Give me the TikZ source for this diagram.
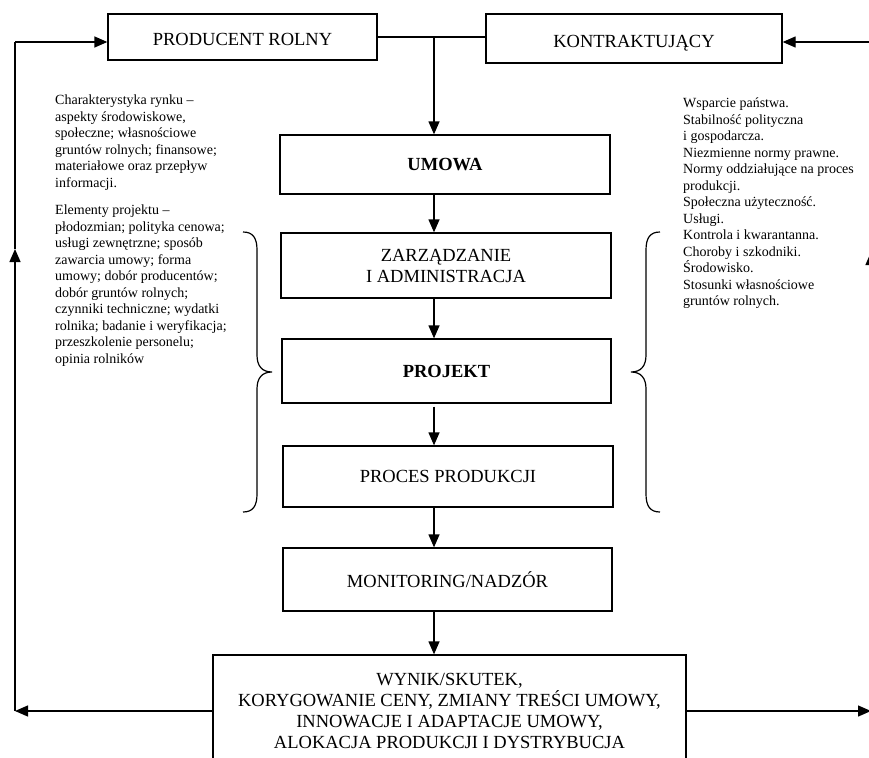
\documentclass[tikz,border=0pt]{standalone}
\usepackage{fontspec}
\setmainfont{Liberation Serif}
\usetikzlibrary{arrows.meta}
\begin{document}
\begin{tikzpicture}[x=1pt,y=-1pt,
  box/.style={draw, line width=1.3pt, inner sep=0pt, align=center,
    font=\fontsize{18.5}{21}\selectfont},
  topbox/.style={box, text height=18pt, text depth=0pt},
  side/.style={inner sep=0pt, align=left, anchor=north west,
    font=\fontsize{14}{16.5}\selectfont},
  conn/.style={line width=1.3pt},
  arr/.style={line width=1.3pt, -{Triangle[length=13pt,width=11pt]}},
  brace/.style={line width=1.2pt}]
\useasboundingbox (0,0) rectangle (869,757);
% boxes
\node[topbox, minimum width=269pt, minimum height=46pt] (PR) at (242.5,37) {PRODUCENT ROLNY};
\node[topbox, minimum width=296pt, minimum height=49pt] (KO) at (634,38.5) {KONTRAKTUJĄCY};
\node[box, minimum width=330pt, minimum height=59pt] (UM) at (445,164.5) {\textbf{UMOWA}};
\node[box, minimum width=330pt, minimum height=65pt] (ZA) at (446,265.5) {ZARZĄDZANIE\\I ADMINISTRACJA};
\node[box, minimum width=329pt, minimum height=64pt] (PJ) at (446.5,371) {\textbf{PROJEKT}};
\node[box, minimum width=330pt, minimum height=61pt] (PP) at (448,476.5) {PROCES PRODUKCJI};
\node[box, minimum width=329pt, minimum height=63pt] (MO) at (447.5,579.5) {MONITORING/NADZÓR};
\node[box, minimum width=473pt, minimum height=112pt] (WY) at (449.5,711) {WYNIK/SKUTEK,\\KORYGOWANIE CENY, ZMIANY TREŚCI UMOWY,\\INNOWACJE I ADAPTACJE UMOWY,\\ALOKACJA PRODUKCJI I DYSTRYBUCJA};
% side texts
\node[side] (T1) at (55,95) {Charakterystyka rynku –\\aspekty środowiskowe,\\społeczne; własnościowe\\gruntów rolnych; finansowe;\\materiałowe oraz przepływ\\informacji.};
\node[side] (T2) at (55,205) {Elementy projektu –\\płodozmian; polityka cenowa;\\usługi zewnętrzne; sposób\\zawarcia umowy; forma\\umowy; dobór producentów;\\dobór gruntów rolnych;\\czynniki techniczne; wydatki\\rolnika; badanie i weryfikacja;\\przeszkolenie personelu;\\opinia rolników};
\node[side] (T3) at (683,98) {Wsparcie państwa.\\Stabilność polityczna\\i gospodarcza.\\Niezmienne normy prawne.\\Normy oddziałujące na proces\\produkcji.\\Społeczna użyteczność.\\Usługi.\\Kontrola i kwarantanna.\\Choroby i szkodniki.\\Środowisko.\\Stosunki własnościowe\\gruntów rolnych.};
% coordinates
\coordinate (J) at (434,37);
\coordinate (BL) at (15,711);
\coordinate (LM) at (15,249);
\coordinate (TL) at (15,42);
\coordinate (BR) at (871,711);
\coordinate (RM) at (871,252);
\coordinate (TR) at (871,42);
% connectors
\draw[conn] (PR.east) -- (J) -- (KO.west |- J);
\draw[arr] (J) -- (J |- UM.north);
\draw[arr] (UM.south -| J) -- (ZA.north -| J);
\draw[arr] (ZA.south -| J) -- (PJ.north -| J);
\draw[arr] ([yshift=-3pt]PJ.south -| J) -- (PP.north -| J);
\draw[arr] (PP.south -| J) -- (MO.north -| J);
\draw[arr] (MO.south -| J) -- (WY.north -| J);
% feedback loops
\draw[arr] (WY.west) -- (BL);
\draw[arr] (BL) -- (LM);
\draw[conn] (LM) -- (TL);
\draw[arr] (TL) -- (PR.west |- TL);
\draw[arr] (WY.east) -- (BR);
\draw[arr] (BR) -- (RM);
\draw[conn] (RM) -- (TR);
\draw[arr] (TR) -- (KO.east |- TR);
% braces
\draw[brace] (243,232) .. controls (253,232) and (257,238) .. (257,250) -- (257,355)
  .. controls (257,366) and (262,372) .. (272,372)
  .. controls (262,372) and (257,378) .. (257,389) -- (257,494)
  .. controls (257,506) and (253,512) .. (243,512);
\draw[brace] (660,232) .. controls (650,232) and (646,238) .. (646,250) -- (646,355)
  .. controls (646,366) and (641,372) .. (631,372)
  .. controls (641,372) and (646,378) .. (646,389) -- (646,494)
  .. controls (646,506) and (650,512) .. (660,512);
\end{tikzpicture}
\end{document}
